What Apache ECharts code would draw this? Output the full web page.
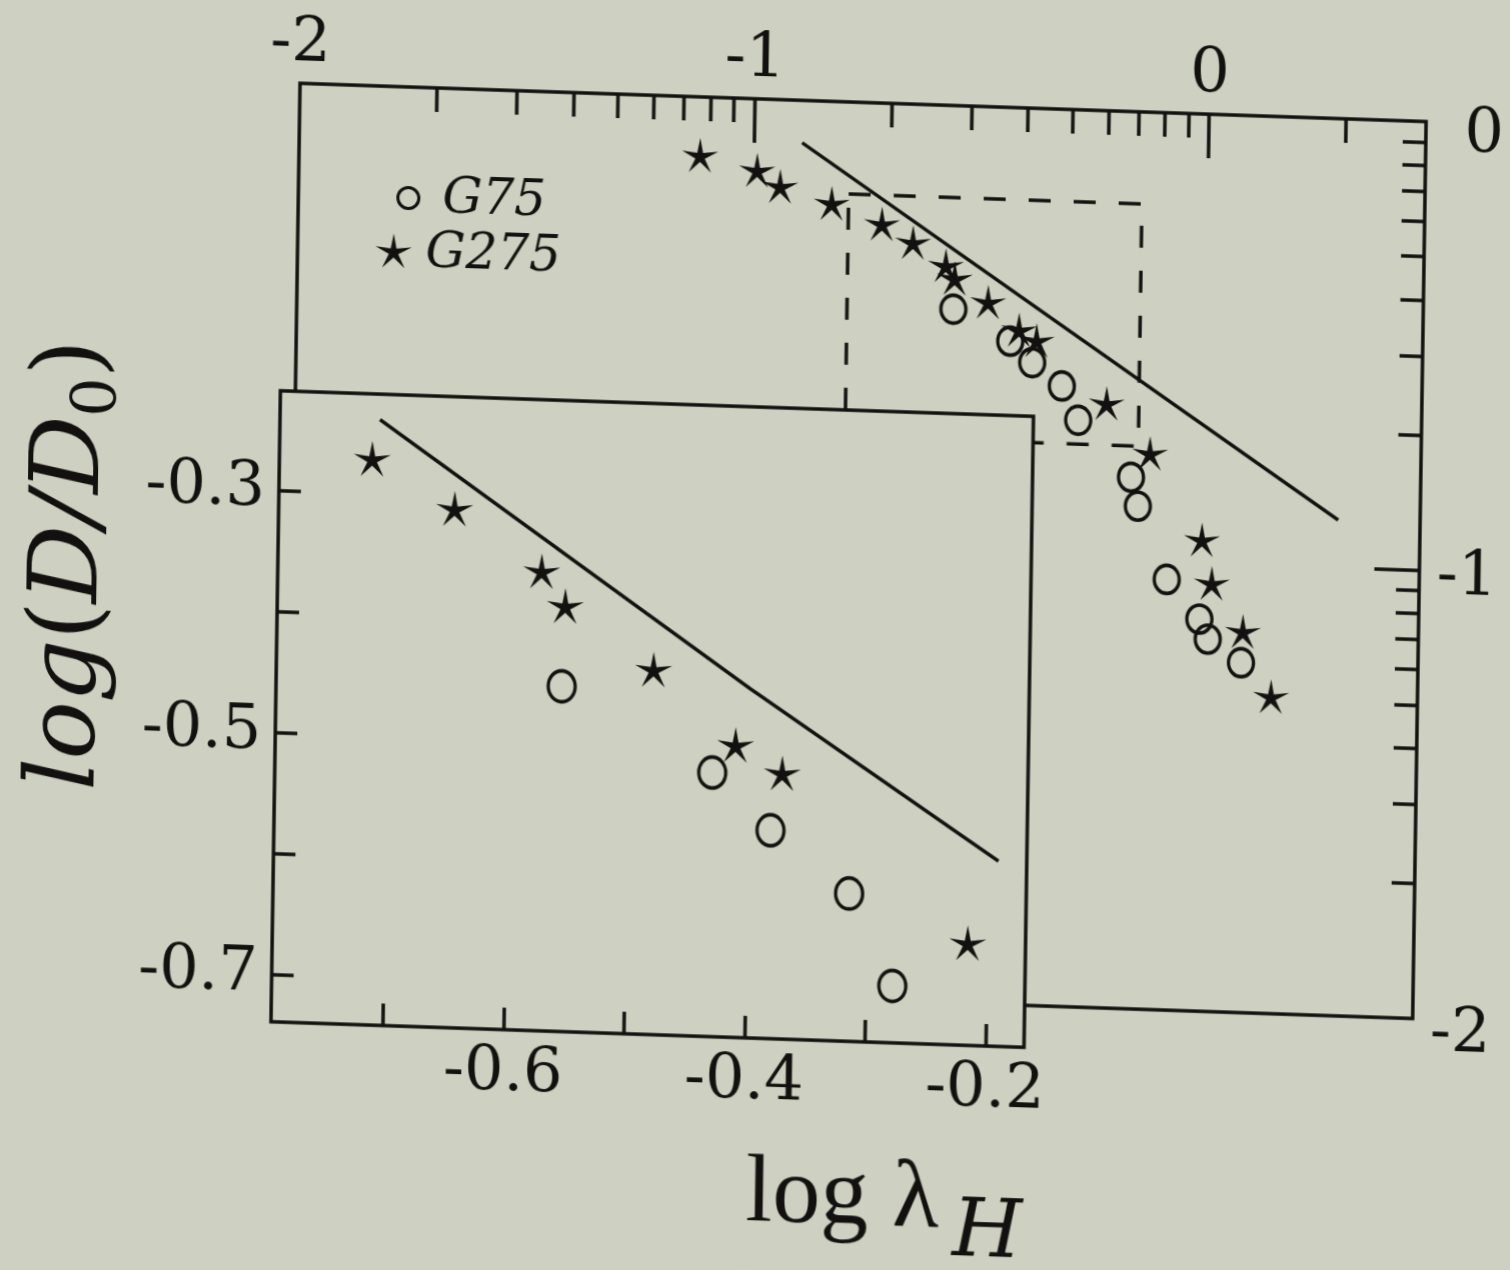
<!DOCTYPE html>
<html>
<head>
<meta charset="utf-8">
<script src="https://cdn.jsdelivr.net/npm/echarts@6/dist/echarts.min.js"></script>
<style>
  html, body { margin: 0; padding: 0; background: #ced1c1; overflow: hidden; }
  /* the printed page sits slightly sheared on the scanner bed */
  #chart { width: 1510px; height: 1270px; transform-origin: 755px 635px; transform: matrix(1, 0.034, -0.015, 1, 0, 0); }
</style>
</head>
<body>
<div id="chart"></div>
<script>
// log10(lambda_H) and log10(D/D0) for the two samples
const g275LogLambda = [-1.118, -0.992, -0.941, -0.827, -0.716, -0.647, -0.574, -0.554, -0.480, -0.411, -0.372, -0.216, -0.119, -0.002, 0.021, 0.091, 0.155];
const g275LogD      = [-0.134, -0.163, -0.197, -0.231, -0.273, -0.312, -0.361, -0.389, -0.439, -0.499, -0.521, -0.656, -0.764, -0.953, -1.049, -1.154, -1.297];
const g75LogLambda  = [-0.556, -0.430, -0.381, -0.315, -0.278, -0.160, -0.144, -0.078, -0.005, 0.014, 0.088];
const g75LogD       = [-0.454, -0.521, -0.567, -0.617, -0.692, -0.815, -0.879, -1.040, -1.126, -1.170, -1.220];

// model curve, full range and enlarged panel
const modelLogLambda = [-0.894, 0.297];
const modelLogD      = [-0.0945, -0.8945];
const insetModelLogLambda = [-0.710, -0.399, -0.1915];
const insetModelLogD      = [-0.239, -0.451, -0.586];

// region shown enlarged in the lower-left panel
const zoomBoxLogLambda = [-0.79, -0.145];
const zoomBoxLogD      = [-0.205, -0.745];

// axis extents (lambda from 0.01 to 3, D/D0 from 0.01 to 1)
const mainLambdaRange  = [-2, Math.log10(3)];
const mainDRange       = [-2, 0];
const insetLambdaRange = [-0.793, -0.168];
const insetDRange      = [-0.739, -0.218];

// tick labels
const topTickLabels   = [-2, -1, 0];
const rightTickLabels = [0, -1, -2];
const insetXTicks = [-0.7, -0.6, -0.5, -0.4, -0.3, -0.2];
const insetXTickLabels = [-0.6, -0.4, -0.2];
const insetYTicks = [-0.7, -0.6, -0.5, -0.4, -0.3];
const insetYTickLabels = [-0.3, -0.5, -0.7];

const INK = '#12110f';
const PAPER = '#ced1c1';
const SERIF = 'DejaVu Serif';
const W = 3.5;

// thin-armed five point star, padded to a square box so it stays centred
const STAR = 'path://M50,0L57.64,39.49L97.55,34.55L62.36,54.02L79.39,90.45L50,63L20.61,90.45L37.64,54.02L2.45,34.55L42.36,39.49ZM0,0L0,0M100,100L100,100';

const zip = (xs, ys) => xs.map((x, i) => [x, ys[i]]);

// logarithmic minor ticks (2..9 in every decade) expressed in log10 units
function decadeTicks(lo, hi) {
  const out = [];
  for (let n = Math.floor(lo); n <= Math.ceil(hi); n++) {
    for (let k = 2; k <= 9; k++) {
      const v = n + Math.log10(k);
      if (v > lo + 1e-6 && v < hi - 1e-6) out.push(v);
    }
  }
  return out;
}
const inside = (vals, r) => vals.filter(v => v > Math.min(r[0], r[1]) + 1e-6 && v < Math.max(r[0], r[1]) - 1e-6);

const tickLine = { color: INK, width: W };
const labelFont = { fontFamily: SERIF, fontSize: 62, color: INK };
const hollow = { color: 'rgba(0,0,0,0)', borderColor: INK, borderWidth: W, opacity: 1 };
const solid = { color: INK, opacity: 1 };

const zoomBox = [
  [zoomBoxLogLambda[0], zoomBoxLogD[0]],
  [zoomBoxLogLambda[1], zoomBoxLogD[0]],
  [zoomBoxLogLambda[1], zoomBoxLogD[1]],
  [zoomBoxLogLambda[0], zoomBoxLogD[1]],
  [zoomBoxLogLambda[0], zoomBoxLogD[0]]
];

const chart = echarts.init(document.getElementById('chart'), null, { renderer: 'canvas' });

chart.setOption({
  animation: false,
  backgroundColor: PAPER,
  grid: [
    { left: 292, top: 99, width: 1126, height: 897, show: true, backgroundColor: 'rgba(0,0,0,0)',
      borderColor: INK, borderWidth: W, z: 0, containLabel: false, outerBoundsMode: 'none' },
    { left: 277, top: 407, width: 753, height: 631, show: true, backgroundColor: PAPER,
      borderColor: INK, borderWidth: W, z: 10, containLabel: false, outerBoundsMode: 'none' }
  ],
  xAxis: [
    { gridIndex: 0, type: 'value', position: 'top', min: mainLambdaRange[0], max: mainLambdaRange[1], z: 1,
      axisLine: { show: false, onZero: false }, splitLine: { show: false },
      axisTick: { show: true, inside: true, length: 24, customValues: decadeTicks(mainLambdaRange[0], mainLambdaRange[1]), lineStyle: tickLine },
      axisLabel: Object.assign({ show: true, customValues: topTickLabels, margin: 8, showMinLabel: true, showMaxLabel: true,
        formatter: v => String(Math.round(v)) }, labelFont) },
    { gridIndex: 0, type: 'value', position: 'top', min: mainLambdaRange[0], max: mainLambdaRange[1], z: 1,
      axisLine: { show: false, onZero: false }, splitLine: { show: false },
      axisTick: { show: true, inside: true, length: 44, customValues: inside(topTickLabels, mainLambdaRange), lineStyle: tickLine },
      axisLabel: { show: false } },
    { gridIndex: 1, type: 'value', position: 'bottom', min: insetLambdaRange[0], max: insetLambdaRange[1], z: 11,
      axisLine: { show: false, onZero: false }, splitLine: { show: false },
      axisTick: { show: true, inside: true, length: 22, customValues: insetXTicks, lineStyle: tickLine },
      axisLabel: Object.assign({ show: true, customValues: insetXTickLabels, margin: 13, showMinLabel: true, showMaxLabel: true,
        formatter: v => v.toFixed(1) }, labelFont) }
  ],
  yAxis: [
    { gridIndex: 0, type: 'value', position: 'right', min: mainDRange[0], max: mainDRange[1], z: 1,
      axisLine: { show: false, onZero: false }, splitLine: { show: false },
      axisTick: { show: true, inside: true, length: 23, customValues: decadeTicks(mainDRange[0], mainDRange[1]), lineStyle: tickLine },
      axisLabel: Object.assign({ show: true, customValues: rightTickLabels, margin: 78, align: 'right', showMinLabel: true, showMaxLabel: true,
        formatter: v => {
          const s = String(Math.round(v));
          if (v > -0.5) return '{hi|' + s + '}';
          if (v < -1.5) return '{lo|' + s + '}';
          return '{mid|' + s + '}';
        },
        rich: {
          hi: { fontFamily: SERIF, fontSize: 62, color: INK, padding: [24, 0, 0, 0] },
          mid: { fontFamily: SERIF, fontSize: 62, color: INK, padding: [12, 0, 0, 0] },
          lo: { fontFamily: SERIF, fontSize: 62, color: INK, padding: [30, 0, 0, 0] }
        } }, labelFont) },
    { gridIndex: 0, type: 'value', position: 'right', min: mainDRange[0], max: mainDRange[1], z: 1,
      axisLine: { show: false, onZero: false }, splitLine: { show: false },
      axisTick: { show: true, inside: true, length: 45, customValues: inside(rightTickLabels, mainDRange), lineStyle: tickLine },
      axisLabel: { show: false } },
    { gridIndex: 1, type: 'value', position: 'left', min: insetDRange[0], max: insetDRange[1], z: 11,
      axisLine: { show: false, onZero: false }, splitLine: { show: false },
      axisTick: { show: true, inside: true, length: 22, customValues: insetYTicks, lineStyle: tickLine },
      axisLabel: Object.assign({ show: true, customValues: insetYTickLabels, margin: 14, showMinLabel: true, showMaxLabel: true,
        formatter: v => v.toFixed(1) }, labelFont) }
  ],
  legend: [
    { data: ['G75'], left: 390, top: 185, padding: 0, itemWidth: 58, itemHeight: 21, selectedMode: false,
      itemStyle: { color: 'rgba(0,0,0,0)', borderColor: INK, borderWidth: 3, opacity: 1 },
      textStyle: { fontFamily: SERIF, fontStyle: 'italic', fontSize: 50, color: INK } },
    { data: ['G275'], left: 369, top: 240, padding: 0, itemWidth: 54, itemHeight: 38, selectedMode: false,
      itemStyle: { color: INK, borderWidth: 0, opacity: 1 },
      textStyle: { fontFamily: SERIF, fontStyle: 'italic', fontSize: 50, color: INK } }
  ],
  graphic: [
    { type: 'text', x: 71, y: 588, rotation: Math.PI / 2, z: 20,
      style: {
        text: '{i|log}{p|(}{i|D/D}{s|0}{p|)}',
        align: 'center', verticalAlign: 'middle', fill: INK,
        rich: {
          i: { fontFamily: SERIF, fontStyle: 'italic', fontSize: 96, lineHeight: 112, fill: INK },
          p: { fontFamily: SERIF, fontSize: 96, lineHeight: 112, fill: INK },
          s: { fontFamily: SERIF, fontSize: 62, lineHeight: 76, verticalAlign: 'bottom', fill: INK }
        }
      } },
    { type: 'text', x: 754, y: 1195, z: 20,
      style: { text: 'log λ', fontFamily: 'Liberation Serif', fontSize: 96, fill: INK, align: 'left', verticalAlign: 'middle' } },
    { type: 'text', x: 961, y: 1227, z: 20,
      style: { text: 'H', fontFamily: SERIF, fontStyle: 'italic', fontSize: 80, fill: INK, align: 'left', verticalAlign: 'middle' } }
  ],
  series: [
    { type: 'line', xAxisIndex: 0, yAxisIndex: 0, data: zoomBox, symbol: 'none', silent: true, z: 2,
      lineStyle: { color: INK, width: W, type: [22, 23] } },
    { type: 'line', xAxisIndex: 0, yAxisIndex: 0, data: zip(modelLogLambda, modelLogD), symbol: 'none', silent: true, z: 2,
      lineStyle: { color: INK, width: W } },
    { name: 'G75', type: 'scatter', xAxisIndex: 0, yAxisIndex: 0, data: zip(g75LogLambda, g75LogD), z: 3, silent: true,
      symbol: 'circle', symbolSize: [25, 28], itemStyle: hollow },
    { name: 'G275', type: 'scatter', xAxisIndex: 0, yAxisIndex: 0, data: zip(g275LogLambda, g275LogD), z: 3, silent: true,
      symbol: STAR, symbolSize: 38, itemStyle: solid },

    { type: 'line', xAxisIndex: 2, yAxisIndex: 2, data: zip(insetModelLogLambda, insetModelLogD), symbol: 'none', silent: true, z: 12, clip: true,
      lineStyle: { color: INK, width: W } },
    { name: 'G75', type: 'scatter', xAxisIndex: 2, yAxisIndex: 2, data: zip(g75LogLambda, g75LogD), z: 13, silent: true, clip: true,
      symbol: 'circle', symbolSize: [27, 31], itemStyle: hollow },
    { name: 'G275', type: 'scatter', xAxisIndex: 2, yAxisIndex: 2, data: zip(g275LogLambda, g275LogD), z: 13, silent: true, clip: true,
      symbol: STAR, symbolSize: 39, itemStyle: solid }
  ]
});
</script>
</body>
</html>
